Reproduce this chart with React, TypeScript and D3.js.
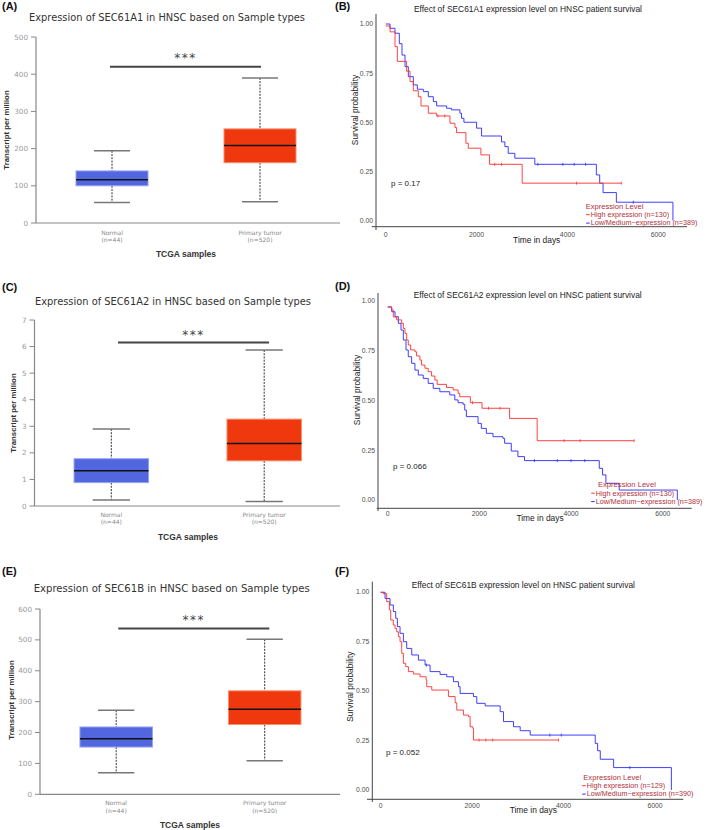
import React from "react";
import * as d3 from "d3";

// ---------- Box plot data (low whisker, Q1, median, Q3, high whisker) ----------
const groups = ["Normal", "Primary tumor"];
const groupN = ["(n=44)", "(n=520)"];
const boxColors = ["#5266e0", "#f0380f"];
const boxStroke = ["#97a3ee", "#f6906e"];

const a1Normal = [55, 100, 116, 140, 194];
const a1Tumor = [57, 162, 208, 253, 390];
const a1Ticks = [0, 100, 200, 300, 400, 500];
const a1Sig = 420;

const a2Normal = [0.23, 0.88, 1.33, 1.78, 2.9];
const a2Tumor = [0.17, 1.7, 2.35, 3.27, 5.87];
const a2Ticks = [0, 1, 2, 3, 4, 5, 6, 7];
const a2Sig = 6.15;

const bNormal = [70, 153, 180, 218, 272];
const bTumor = [109, 226, 275, 335, 502];
const bTicks = [0, 100, 200, 300, 400, 500, 600];
const bSig = 537;

// ---------- Kaplan-Meier data [day, survival] ----------
const kmTicksX = [0, 2000, 4000, 6000];
const kmTicksY = [0, 0.25, 0.5, 0.75, 1.0];

const a1High: [number, number][] = [
  [0, 0.99], [95, 0.96], [205, 0.885], [256, 0.81], [460, 0.76], [535, 0.707], [608, 0.66],
  [718, 0.63], [777, 0.583], [938, 0.546], [1121, 0.532], [1414, 0.495], [1524, 0.473],
  [1560, 0.447], [1766, 0.393], [1817, 0.368], [2095, 0.334], [2286, 0.286], [3004, 0.19], [5187, 0.19],
];
const a1Low: [number, number][] = [
  [0, 1.0], [95, 0.978], [205, 0.953], [300, 0.9], [359, 0.842], [425, 0.783], [498, 0.732],
  [608, 0.69], [696, 0.668], [828, 0.656], [938, 0.63], [1048, 0.605], [1121, 0.583], [1341, 0.571],
  [1450, 0.563], [1634, 0.546], [1670, 0.52], [1722, 0.5], [2000, 0.47], [2110, 0.43], [2549, 0.4],
  [2623, 0.376], [2696, 0.342], [2842, 0.317], [3282, 0.286], [4637, 0.232], [4710, 0.19],
  [4784, 0.142], [5077, 0.093], [6322, 0.0],
];
const a1HighCens = [1150, 1300, 2400, 2550, 4200, 5187];
const a1LowCens = [3350, 3900, 4150, 4400, 5450];

const a2High: [number, number][] = [
  [0, 0.97], [87, 0.955], [123, 0.92], [196, 0.905], [304, 0.888], [341, 0.862], [377, 0.837],
  [413, 0.804], [449, 0.779], [500, 0.754], [594, 0.745], [630, 0.724], [703, 0.703], [739, 0.678],
  [812, 0.662], [884, 0.645], [957, 0.623], [1029, 0.603], [1080, 0.581], [1283, 0.565], [1428, 0.553],
  [1536, 0.536], [1572, 0.519], [1804, 0.489], [2058, 0.461], [2659, 0.41], [3261, 0.298], [5377, 0.298],
];
const a2Low: [number, number][] = [
  [0, 0.97], [87, 0.946], [160, 0.921], [232, 0.888], [290, 0.854], [341, 0.804], [399, 0.754],
  [449, 0.72], [522, 0.687], [594, 0.653], [667, 0.628], [775, 0.611], [884, 0.586], [993, 0.561],
  [1138, 0.544], [1355, 0.528], [1464, 0.503], [1536, 0.489], [1645, 0.481], [1681, 0.452],
  [1717, 0.419], [1971, 0.385], [2043, 0.36], [2152, 0.335], [2297, 0.318], [2514, 0.31], [2551, 0.285],
  [2696, 0.246], [2841, 0.218], [2986, 0.198], [4616, 0.159], [4688, 0.126], [4761, 0.084],
  [5051, 0.05], [6319, 0.0],
];
const a2HighCens = [1850, 2200, 2450, 3850, 4200, 5377];
const a2LowCens = [3200, 3700, 4000, 4300];

const bHigh: [number, number][] = [
  [0, 0.997], [58, 0.99], [131, 0.95], [190, 0.908], [219, 0.857], [277, 0.832], [314, 0.815],
  [350, 0.798], [387, 0.773], [423, 0.748], [460, 0.689], [496, 0.639], [547, 0.622], [606, 0.597],
  [715, 0.585], [861, 0.571], [993, 0.555], [1007, 0.521], [1117, 0.504], [1482, 0.471], [1628, 0.44],
  [1664, 0.403], [1810, 0.378], [1920, 0.37], [1956, 0.319], [2015, 0.311], [2029, 0.252], [3891, 0.252],
];
const bLow: [number, number][] = [
  [0, 0.997], [95, 0.966], [204, 0.933], [277, 0.9], [328, 0.866], [365, 0.824], [423, 0.79],
  [496, 0.748], [569, 0.714], [679, 0.681], [825, 0.655], [971, 0.63], [1080, 0.597], [1299, 0.583],
  [1445, 0.571], [1591, 0.546], [1701, 0.521], [1737, 0.487], [2029, 0.471], [2102, 0.437],
  [2285, 0.424], [2613, 0.395], [2686, 0.345], [2905, 0.319], [3051, 0.299], [3270, 0.277],
  [4693, 0.235], [4745, 0.198], [4803, 0.155], [5095, 0.113], [6358, 0.0],
];
const bHighCens = [2150, 2300, 2450, 3891];
const bLowCens = [1000, 3700, 3950, 5450];

const FONT_BOX = "'DejaVu Sans', sans-serif";
const FONT_KM = "'Liberation Sans', Arial, sans-serif";
const RED = "#ff3030";
const BLUE = "#2a2aff";
const LEG = "#b0303a";

type BoxCfg = {
  label: string; labelY: number; title: string; titleX: number; titleY: number;
  axisX: number; axisRight: number; y0px: number; yTopPx: number; yMax: number;
  centers: number[]; boxW: number; sigX1: number; sigX2: number; starsY: number;
  catY: number; xTitleX: number; xTitleY: number; yTitleX: number; yTitleY: number;
};

function BoxPanel({ cfg, stats, ticks, sig }: { cfg: BoxCfg; stats: number[][]; ticks: number[]; sig: number }) {
  const y = d3.scaleLinear().domain([0, cfg.yMax]).range([cfg.y0px, cfg.yTopPx]);
  const fmt = d3.format("d");
  return (
    <g>
      <text x={2} y={cfg.labelY} fontFamily={FONT_KM} fontWeight="bold" fontSize={11} fill="#111">{cfg.label}</text>
      <text x={cfg.titleX} y={cfg.titleY} textAnchor="middle" fontFamily={FONT_BOX} fontSize={11} fill="#333"
        textLength={276} lengthAdjust="spacingAndGlyphs">{cfg.title}</text>
      <line x1={cfg.axisX} x2={cfg.axisX} y1={y(cfg.yMax)} y2={cfg.y0px} stroke="#888" strokeWidth={1.2} />
      <line x1={cfg.axisX} x2={cfg.axisRight} y1={cfg.y0px} y2={cfg.y0px} stroke="#888" strokeWidth={1.2} />
      {ticks.map((t) => (
        <g key={t}>
          <line x1={cfg.axisX - 5} x2={cfg.axisX} y1={y(t)} y2={y(t)} stroke="#888" strokeWidth={1} />
          <text x={cfg.axisX - 8} y={y(t)} dy="0.35em" textAnchor="end" fontFamily={FONT_BOX} fontSize={7.2} fill="#999">{fmt(t)}</text>
        </g>
      ))}
      {stats.map((s, i) => {
        const cx = cfg.centers[i];
        const hw = cfg.boxW / 2;
        const cw = cfg.boxW / 4;
        return (
          <g key={i}>
            <line x1={cx} x2={cx} y1={y(s[4])} y2={y(s[3])} stroke="#333" strokeWidth={1} strokeDasharray="2,1.2" />
            <line x1={cx} x2={cx} y1={y(s[1])} y2={y(s[0])} stroke="#333" strokeWidth={1} strokeDasharray="2,1.2" />
            <line x1={cx - cw} x2={cx + cw} y1={y(s[4])} y2={y(s[4])} stroke="#777" strokeWidth={1.5} />
            <line x1={cx - cw} x2={cx + cw} y1={y(s[0])} y2={y(s[0])} stroke="#777" strokeWidth={1.5} />
            <rect x={cx - hw} y={y(s[3])} width={cfg.boxW} height={y(s[1]) - y(s[3])} fill={boxColors[i]} stroke={boxStroke[i]} strokeWidth={1} />
            <line x1={cx - hw} x2={cx + hw} y1={y(s[2])} y2={y(s[2])} stroke="#111" strokeWidth={1.5} />
            <text x={cx} y={cfg.catY} textAnchor="middle" fontFamily={FONT_BOX} fontSize={6} fill="#888">{groups[i]}</text>
            <text x={cx} y={cfg.catY + 7.5} textAnchor="middle" fontFamily={FONT_BOX} fontSize={6} fill="#888">{groupN[i]}</text>
          </g>
        );
      })}
      <line x1={cfg.sigX1} x2={cfg.sigX2} y1={y(sig)} y2={y(sig)} stroke="#444" strokeWidth={2} />
      <text x={(cfg.sigX1 + cfg.sigX2) / 2} y={cfg.starsY + 7} textAnchor="middle" fontFamily={FONT_BOX} fontSize={12} fill="#444" letterSpacing={1.5}>***</text>
      <text x={cfg.xTitleX} y={cfg.xTitleY} textAnchor="middle" fontFamily={FONT_KM} fontWeight="bold" fontSize={8.5} fill="#333">TCGA samples</text>
      <text transform={`translate(${cfg.yTitleX},${cfg.yTitleY}) rotate(-90)`} textAnchor="middle" dy="0.35em" fontFamily={FONT_KM} fontWeight="bold" fontSize={7.8} fill="#333">Transcript per million</text>
    </g>
  );
}

type KmCfg = {
  label: string; labelY: number; title: string; titleX: number; titleY: number;
  yAxisX: number; yAxisTop: number; yAxisBottom: number; xAxisY: number; xAxisLeft: number; xAxisRight: number;
  x0: number; x6000: number; y0: number; y1: number; tickLabelY: number; xTitleX: number; xTitleY: number;
  p: string; pX: number; pY: number; legX: number; legY: number; legItemX: number; legItemY: number;
  nHigh: string; nLow: string; yTitleX: number; yTitleY: number;
};

function stepAt(curve: [number, number][], t: number) {
  let v = curve[0][1];
  for (const [d, s] of curve) { if (d <= t) v = s; }
  return v;
}

function KmPanel({ cfg, high, low, highC, lowC }: { cfg: KmCfg; high: [number, number][]; low: [number, number][]; highC: number[]; lowC: number[] }) {
  const x = d3.scaleLinear().domain([0, 6000]).range([cfg.x0, cfg.x6000]);
  const y = d3.scaleLinear().domain([0, 1]).range([cfg.y0, cfg.y1]);
  const line = d3.line<[number, number]>().x((d) => x(d[0])).y((d) => y(d[1])).curve(d3.curveStepAfter);
  const fmtY = d3.format(".2f");
  const series = [
    { data: low, c: BLUE, cens: lowC },
    { data: high, c: RED, cens: highC },
  ];
  const legFs = 7.2;
  const legGap = 8.4;
  const legHead = 8.5;
  const it1 = cfg.legItemY - 0.5;
  const head = it1 - legHead;
  const it2 = it1 + legGap;
  return (
    <g>
      <text x={335} y={cfg.labelY} fontFamily={FONT_KM} fontWeight="bold" fontSize={11} fill="#111">{cfg.label}</text>
      <text x={cfg.titleX} y={cfg.titleY} textAnchor="middle" fontFamily={FONT_KM} fontSize={8.4} fill="#222">{cfg.title}</text>
      <line x1={cfg.yAxisX} x2={cfg.yAxisX} y1={cfg.yAxisTop} y2={cfg.yAxisBottom} stroke="#444" strokeWidth={1} />
      <line x1={cfg.xAxisLeft} x2={cfg.xAxisRight} y1={cfg.xAxisY} y2={cfg.xAxisY} stroke="#444" strokeWidth={1} />
      {kmTicksY.map((t) => (
        <text key={t} x={cfg.yAxisX - 3} y={y(t)} dy="0.35em" textAnchor="end" fontFamily={FONT_KM} fontSize={6.8} fill="#4d4d4d">{fmtY(t)}</text>
      ))}
      {kmTicksX.map((t) => (
        <text key={t} x={x(t)} y={cfg.tickLabelY} textAnchor="middle" fontFamily={FONT_KM} fontSize={6.8} fill="#4d4d4d">{t}</text>
      ))}
      {series.map((s, i) => (
        <g key={i}>
          <path d={line(s.data) || ""} fill="none" stroke={s.c} strokeWidth={1} strokeOpacity={0.9} />
          {s.cens.map((t, j) => (
            <line key={j} x1={x(t)} x2={x(t)} y1={y(stepAt(s.data, t)) - 1.5} y2={y(stepAt(s.data, t)) + 1.5} stroke={s.c} strokeWidth={0.8} />
          ))}
        </g>
      ))}
      <text x={cfg.pX} y={cfg.pY} fontFamily={FONT_KM} fontSize={8} fill="#222">{cfg.p}</text>
      <text x={cfg.xTitleX} y={cfg.xTitleY} textAnchor="middle" fontFamily={FONT_KM} fontSize={8.4} fill="#222">Time in days</text>
      <text transform={`translate(${cfg.yTitleX},${cfg.yTitleY}) rotate(-90)`} textAnchor="middle" dy="0.35em" fontFamily={FONT_KM} fontSize={8.4} fill="#222">Survival probability</text>
      <text x={cfg.legX} y={head} fontFamily={FONT_KM} fontSize={7.6} fill={LEG}>Expression Level</text>
      <line x1={cfg.legItemX - 4.5} x2={cfg.legItemX - 1} y1={it1 - 2.3} y2={it1 - 2.3} stroke={RED} strokeWidth={1} />
      <text x={cfg.legItemX} y={it1} fontFamily={FONT_KM} fontSize={legFs} fill={LEG}>{`High expression (${cfg.nHigh})`}</text>
      <line x1={cfg.legItemX - 4.5} x2={cfg.legItemX - 1} y1={it2 - 2.3} y2={it2 - 2.3} stroke={BLUE} strokeWidth={1} />
      <text x={cfg.legItemX} y={it2} fontFamily={FONT_KM} fontSize={legFs} fill={LEG}>{`Low/Medium\u2212expression (${cfg.nLow})`}</text>
    </g>
  );
}

const boxA: BoxCfg = {
  label: "(A)", labelY: 10, title: "Expression of SEC61A1 in HNSC based on Sample types", titleX: 167, titleY: 21,
  axisX: 36, axisRight: 340, y0px: 223, yTopPx: 37, yMax: 500, centers: [112, 260], boxW: 72,
  sigX1: 110, sigX2: 261, starsY: 55, catY: 234.5, xTitleX: 186, xTitleY: 257, yTitleX: 6, yTitleY: 130,
};
const boxC: BoxCfg = {
  label: "(C)", labelY: 291, title: "Expression of SEC61A2 in HNSC based on Sample types", titleX: 173, titleY: 304.5,
  axisX: 34.5, axisRight: 340, y0px: 506, yTopPx: 320, yMax: 7, centers: [111.3, 264.2], boxW: 74.5,
  sigX1: 118, sigX2: 269, starsY: 331.7, catY: 516.5, xTitleX: 188, xTitleY: 539.5, yTitleX: 13, yTitleY: 413,
};
const boxE: BoxCfg = {
  label: "(E)", labelY: 575, title: "Expression of SEC61B in HNSC based on Sample types", titleX: 171.7, titleY: 592,
  axisX: 40, axisRight: 340, y0px: 794.3, yTopPx: 609, yMax: 600, centers: [116.2, 264.7], boxW: 72.5,
  sigX1: 118.3, sigX2: 269.3, starsY: 616.7, catY: 805, xTitleX: 190, xTitleY: 828, yTitleX: 11, yTitleY: 700,
};

const kmB: KmCfg = {
  label: "(B)", labelY: 10, title: "Effect of SEC61A1 expression level on HNSC patient survival", titleX: 528, titleY: 12,
  yAxisX: 376, yAxisTop: 14, yAxisBottom: 230, xAxisY: 226.7, xAxisLeft: 371.7, xAxisRight: 687,
  x0: 385.7, x6000: 658.3, y0: 220.5, y1: 24, tickLabelY: 237, xTitleX: 536.7, xTitleY: 243,
  p: "p = 0.17", pX: 391, pY: 186, legX: 585.7, legY: 209.5, legItemX: 590.7, legItemY: 217.5,
  nHigh: "n=130", nLow: "n=389", yTitleX: 355, yTitleY: 110,
};
const kmD: KmCfg = {
  label: "(D)", labelY: 290, title: "Effect of SEC61A2 expression level on HNSC patient survival", titleX: 527.7, titleY: 298,
  yAxisX: 378, yAxisTop: 293, yAxisBottom: 511, xAxisY: 508.3, xAxisLeft: 376.7, xAxisRight: 691.7,
  x0: 387.7, x6000: 662.7, y0: 500, y1: 301, tickLabelY: 515.5, xTitleX: 540, xTitleY: 521,
  p: "p = 0.066", pX: 393, pY: 468.5, legX: 598, legY: 489, legItemX: 595.7, legItemY: 496,
  nHigh: "n=130", nLow: "n=389", yTitleX: 356.7, yTitleY: 390,
};
const kmF: KmCfg = {
  label: "(F)", labelY: 575, title: "Effect of SEC61B expression level on HNSC patient survival", titleX: 523.3, titleY: 588,
  yAxisX: 372.3, yAxisTop: 581.7, yAxisBottom: 802, xAxisY: 799.3, xAxisLeft: 367, xAxisRight: 683.3,
  x0: 380.7, x6000: 655, y0: 790, y1: 591.7, tickLabelY: 807.5, xTitleX: 533.3, xTitleY: 812.5,
  p: "p = 0.052", pX: 386, pY: 754.5, legX: 583.3, legY: 779.5, legItemX: 586.7, legItemY: 788.5,
  nHigh: "n=129", nLow: "n=390", yTitleX: 350, yTitleY: 686.7,
};

export default function App() {
  return (
    <svg width={709} height={830} viewBox="0 0 709 830" style={{ position: "absolute", left: 0, top: 0, background: "#fff" }}>
      <rect x={0} y={0} width={709} height={830} fill="#fff" />
      <BoxPanel cfg={boxA} stats={[a1Normal, a1Tumor]} ticks={a1Ticks} sig={a1Sig} />
      <BoxPanel cfg={boxC} stats={[a2Normal, a2Tumor]} ticks={a2Ticks} sig={a2Sig} />
      <BoxPanel cfg={boxE} stats={[bNormal, bTumor]} ticks={bTicks} sig={bSig} />
      <KmPanel cfg={kmB} high={a1High} low={a1Low} highC={a1HighCens} lowC={a1LowCens} />
      <KmPanel cfg={kmD} high={a2High} low={a2Low} highC={a2HighCens} lowC={a2LowCens} />
      <KmPanel cfg={kmF} high={bHigh} low={bLow} highC={bHighCens} lowC={bLowCens} />
    </svg>
  );
}
